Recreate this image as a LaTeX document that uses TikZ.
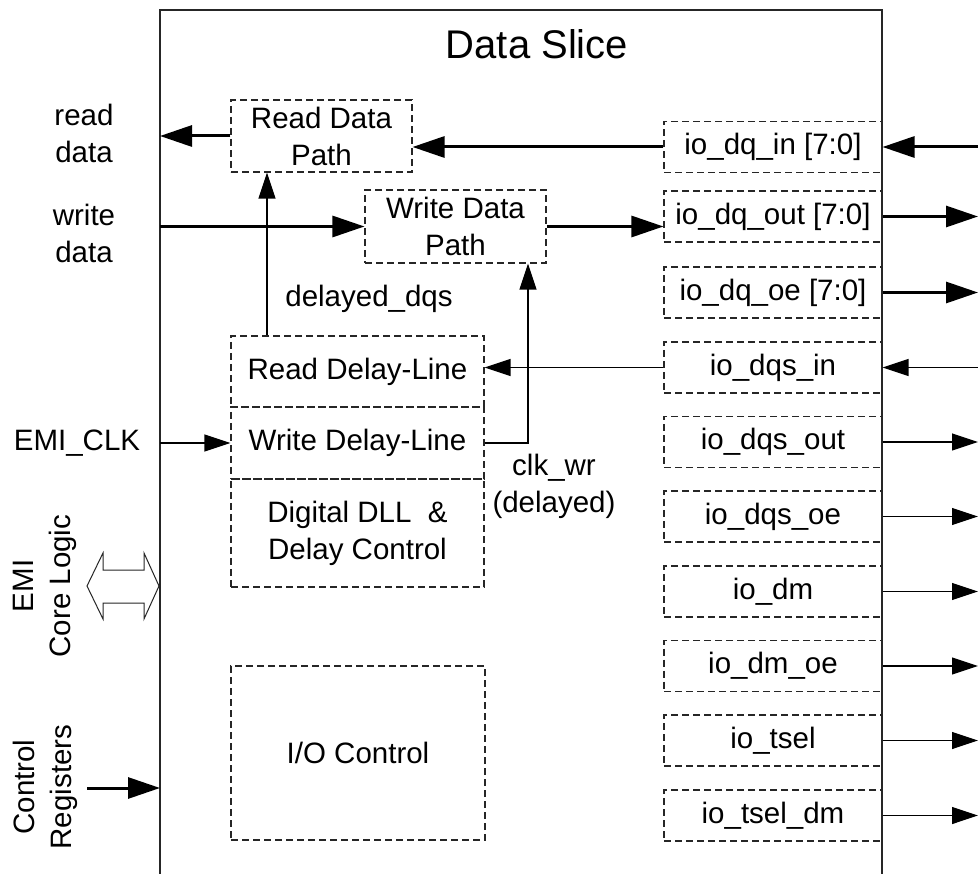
\documentclass[tikz,border=0pt]{standalone}
\usepackage{fontspec}
\setmainfont{Liberation Sans}
\usetikzlibrary{arrows.meta}
\tikzset{
  base/.style={font=\fontsize{29.5}{37}\selectfont},
  dbox/.style={base, draw=black!85, line width=1.1pt, dash pattern=on 7pt off 4pt,
    inner sep=0pt, align=center},
  iobox/.style={dbox, minimum width=218pt, minimum height=51pt},
  lbl/.style={base, align=center, inner sep=0pt},
  fat/.style={line width=3pt, -{Triangle[length=32pt,width=21pt]}},
  slim/.style={line width=1.2pt, -{Triangle[length=26pt,width=17pt]}},
  border/.style={line width=1.6pt, draw=black!85}
}
\begin{document}
\begin{tikzpicture}[x=1pt,y=-1pt]
\useasboundingbox (0,0) rectangle (978,874);
% main block
\coordinate (L) at (160,0);
\coordinate (R) at (978,0);
\coordinate (BL) at (160,874);
\coordinate (TL) at (160,10);
\coordinate (TR) at (882,10);
\coordinate (BR) at (882,874);
\draw[border] (BL) -- (TL) -- (TR) -- (BR);
\node[lbl, font=\fontsize{40}{44}\selectfont] (title) at (537,44) {Data Slice};

% inner blocks
\node[dbox, minimum width=181pt, minimum height=72pt] (rdp) at (321.5,136) {Read Data\\Path};
\node[dbox, minimum width=181pt, minimum height=73pt] (wdp) at (455.5,226.5) {Write Data\\Path};
\node[dbox, minimum width=253pt, minimum height=71pt] (rdl) at (357.5,371.5) {Read Delay-Line};
\node[dbox, minimum width=253pt, minimum height=72pt] (wdl) at (357.5,443) {Write Delay-Line};
\node[dbox, minimum width=253pt, minimum height=108pt] (dll) at (357.5,533) {Digital DLL\ \ \&\\Delay Control};
\node[dbox, minimum width=254pt, minimum height=174pt] (ioc) at (358,753) {I/O Control};

% io boxes
\node[iobox] (dqin)   at (773,147)   {io\_dq\_in [7:0]};
\node[iobox] (dqout)  at (773,216.5) {io\_dq\_out [7:0]};
\node[iobox] (dqoe)   at (773,292.5) {io\_dq\_oe [7:0]};
\node[iobox] (dqsin)  at (773,367.5) {io\_dqs\_in};
\node[iobox] (dqsout) at (773,442)   {io\_dqs\_out};
\node[iobox] (dqsoe)  at (773,516.5) {io\_dqs\_oe};
\node[iobox] (dm)     at (773,591.5) {io\_dm};
\node[iobox] (dmoe)   at (773,666)   {io\_dm\_oe};
\node[iobox] (tsel)   at (773,740.5) {io\_tsel};
\node[iobox] (tseldm) at (773,815.5) {io\_tsel\_dm};

% labels
\node[lbl] (rdlab) at (84,133) {read\\data};
\node[lbl] (wdlab) at (84,233) {write\\data};
\node[lbl] (dqslab) at (369,299) {delayed\_dqs};
\node[lbl] (clklab) at (77,443) {EMI\_CLK};
\node[lbl] (clkwr) at (554,486) {clk\_wr\\(delayed)};
\node[lbl, rotate=90] (emilab) at (45,586) {EMI\\Core Logic};
\node[lbl, rotate=90] (crlab) at (45,787) {Control\\Registers};

% coordinates for bends / free ends
\coordinate (dqsx) at (267,0);
\coordinate (ckx) at (528,0);
\coordinate (crs) at (87,788);

% left side connectors
\draw[fat] (rdp.west) -- (rdp.west -| L);
\draw[fat] (wdp.west -| L) -- (wdp.west);
\draw[slim] (wdl.west -| L) -- (wdl.west);
\draw[fat] (crs) -- (crs -| L);
\draw[line width=1pt, draw=black!85, fill=white]
  (87,586) -- (103,553) -- (103,570) -- (144,570) -- (144,553) -- (159,586)
  -- (144,619) -- (144,603) -- (103,603) -- (103,619) -- cycle;

% internal connectors
\draw[fat] (dqin.west) -- (dqin.west -| rdp.east);
\draw[fat] (wdp.east) -- (wdp.east -| dqout.west);
\draw[slim] (rdl.north -| dqsx) -- (rdp.south -| dqsx);
\draw[slim] (wdl.east) -- (wdl.east -| ckx) -- (wdp.south -| ckx);
\draw[slim] (dqsin.west) -- (dqsin.west -| rdl.east);

% right side connectors
\draw[fat] (R |- dqin) -- (dqin.east);
\draw[fat] (dqout.east) -- (dqout.east -| R);
\draw[fat] (dqoe.east) -- (dqoe.east -| R);
\draw[slim] (R |- dqsin) -- (dqsin.east);
\draw[slim] (dqsout.east) -- (dqsout.east -| R);
\draw[slim] (dqsoe.east) -- (dqsoe.east -| R);
\draw[slim] (dm.east) -- (dm.east -| R);
\draw[slim] (dmoe.east) -- (dmoe.east -| R);
\draw[slim] (tsel.east) -- (tsel.east -| R);
\draw[slim] (tseldm.east) -- (tseldm.east -| R);
\end{tikzpicture}
\end{document}
